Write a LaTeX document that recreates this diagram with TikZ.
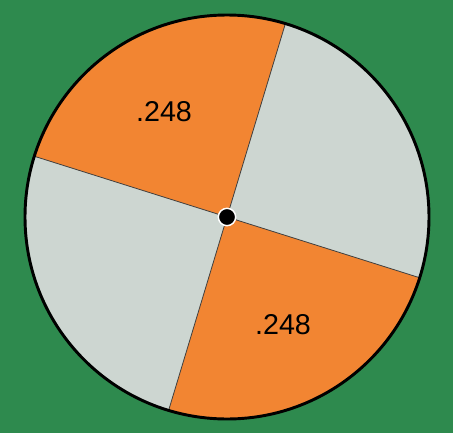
\documentclass[tikz,border=0pt]{standalone}
\usepackage{fontspec}
\setmainfont{Liberation Sans}
\usetikzlibrary{calc}
\definecolor{spinbg}{RGB}{46,138,78}
\definecolor{spinorange}{RGB}{242,133,50}
\definecolor{spingray}{RGB}{205,214,209}

\begin{document}
\begin{tikzpicture}[x=0.75pt, y=0.75pt,
    prob/.style={font=\fontsize{21.5}{22}\selectfont, text=black},
    divider/.style={line width=0.6pt, black!75},
    hub/.style={circle, fill=black, draw=white, line width=1.1pt, inner sep=0pt, minimum size=13pt}]
\useasboundingbox (0,0) rectangle (453,433);
% background and wheel
\fill[spinbg] (0,0) rectangle (453,433);
\coordinate (c) at (227,216);
\fill[spingray] (c) circle (202);
\fill[spinorange] (c) -- ++(73.2:202) arc (73.2:162.5:202) -- cycle;
\fill[spinorange] (c) -- ++(253.2:202) arc (253.2:342.5:202) -- cycle;
% rim points
\coordinate (rimA) at ($(c)+(73.2:202)$);
\coordinate (rimB) at ($(c)+(162.5:202)$);
\coordinate (rimC) at ($(c)+(253.2:202)$);
\coordinate (rimD) at ($(c)+(342.5:202)$);
\draw[divider] (rimA) -- (rimC);
\draw[divider] (rimB) -- (rimD);
\draw[line width=2.2pt] (c) circle (202);
% labels and pivot
\node[prob] (probUp) at (164,321) {.248};
\node[prob] (probDown) at (283,108) {.248};
\node[hub] (pivot) at (c) {};
\end{tikzpicture}
\end{document}
